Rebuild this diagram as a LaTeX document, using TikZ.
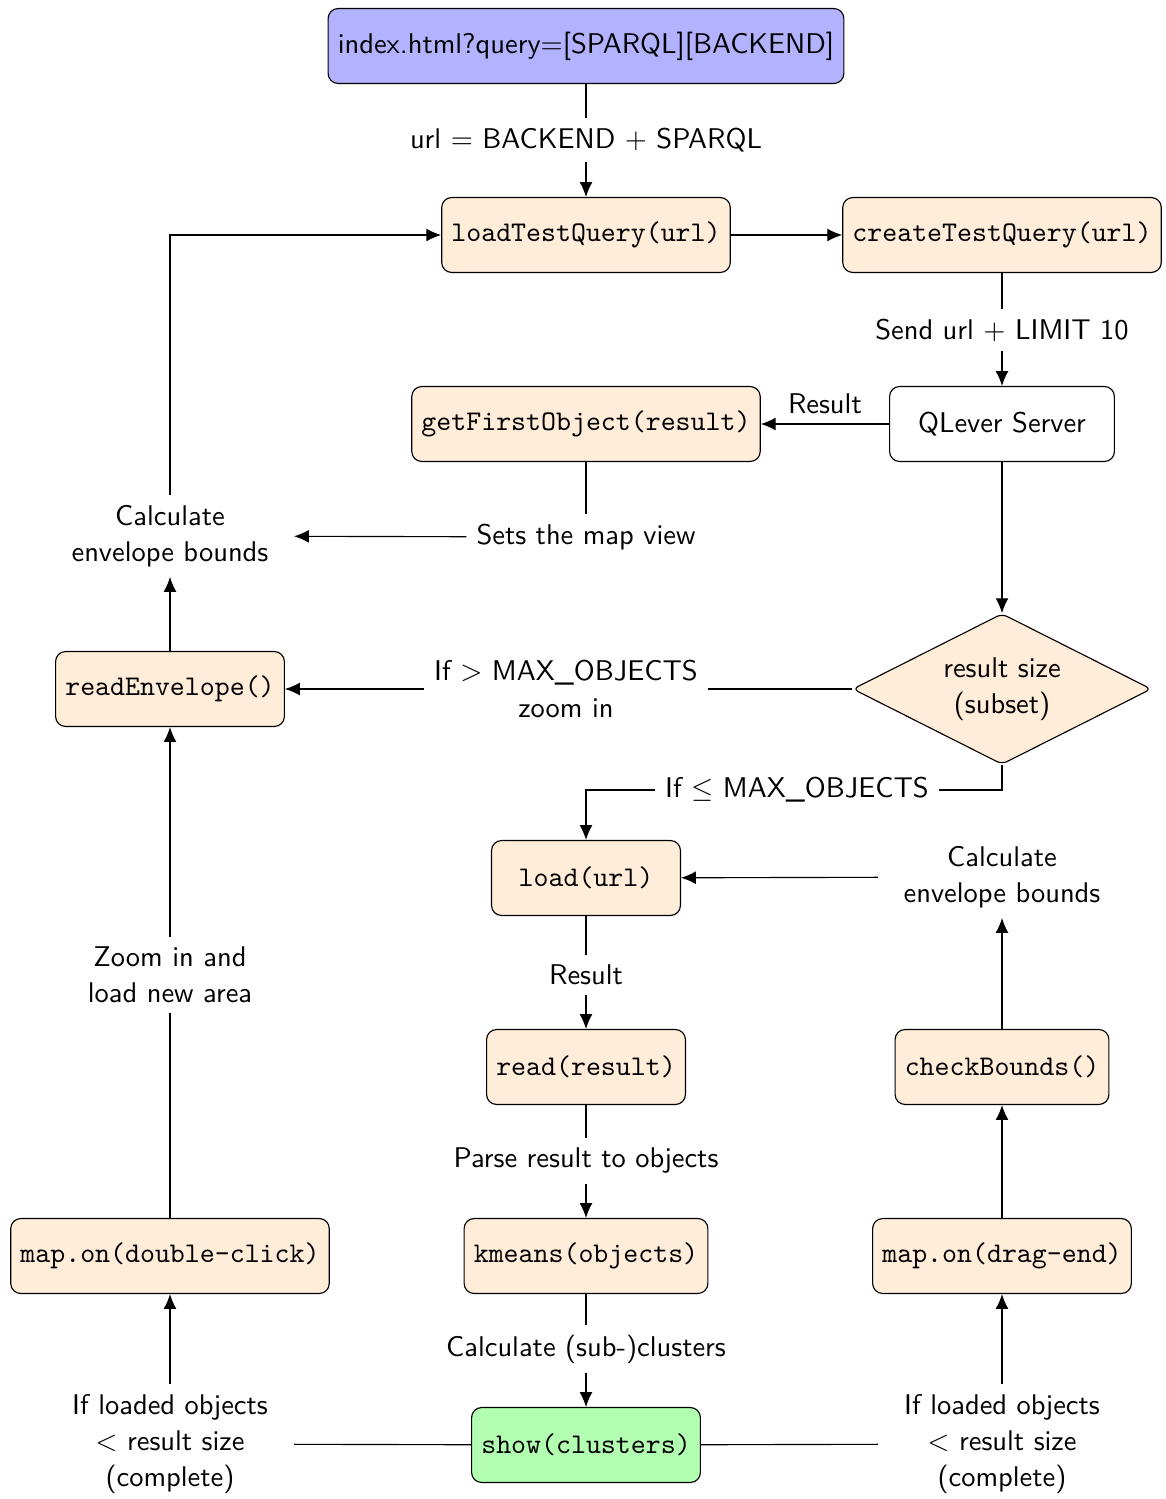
\documentclass[tikz,border=0pt]{standalone}
\usepackage{fontspec}
\usetikzlibrary{arrows.meta,shapes.geometric}
\begin{document}
\begin{tikzpicture}[x=0.351pt,y=-0.351pt,
  font=\fontsize{10}{12.7}\selectfont\sffamily,
  box/.style={draw, rounded corners=3.5pt, minimum height=26.3pt, inner xsep=3.4pt},
  code/.style={box, fill=orange!15, font=\fontsize{10}{12.7}\selectfont\ttfamily},
  start/.style={box, fill=blue!30},
  plainbox/.style={box, fill=white, inner xsep=10pt},
  showbox/.style={code, fill=green!30},
  dia/.style={draw, diamond, aspect=2, fill=orange!15, rounded corners=2pt, align=center,
    minimum width=104.8pt, minimum height=52.9pt, inner sep=1pt},
  lbl/.style={align=center},
  widelbl/.style={align=center, text width=80pt},
  arr/.style={-{Latex[length=5.2pt,width=4.5pt]}}]
\useasboundingbox (0,0) rectangle (1166,1499);

\node[start] (idx) at (586,46) {index.html?query=[SPARQL][BACKEND]};
\node[lbl] (l1) at (586,140) {url $=$ BACKEND $+$ SPARQL};
\node[code] (ltq) at (586,235) {loadTestQuery(url)};
\node[code] (ctq) at (1002,235) {createTestQuery(url)};
\node[lbl] (l2) at (1002,330) {Send url $+$ LIMIT 10};
\node[plainbox] (ql) at (1002,424) {QLever Server};
\node[code] (gfo) at (586,424) {getFirstObject(result)};
\node[lbl] (l3) at (586,537) {Sets the map view};
\node[widelbl] (ceL) at (170,536) {Calculate\\envelope bounds};
\node[code] (re) at (170,689) {readEnvelope()};
\node[dia] (rs) at (1002,689) {result size\\(subset)};
\node[lbl] (l4) at (566,689) {If $>$ MAX\_OBJECTS\\zoom in};
\node[lbl] (l5) at (797,790) {If $\leq$ MAX\_OBJECTS};
\node[code, minimum width=66.3pt] (ld) at (586,878) {load(url)};
\node[widelbl] (ceR) at (1002,877) {Calculate\\envelope bounds};
\node[lbl] (l6) at (586,975) {Result};
\node[code] (rd) at (586,1067) {read(result)};
\node[code] (cb) at (1002,1067) {checkBounds()};
\node[widelbl] (zi) at (170,975) {Zoom in and\\load new area};
\node[lbl] (l7) at (586,1161) {Parse result to objects};
\node[code] (km) at (586,1256) {kmeans(objects)};
\node[code] (dc) at (170,1256) {map.on(double-click)};
\node[code] (de) at (1002,1256) {map.on(drag-end)};
\node[lbl] (l8) at (586,1349) {Calculate (sub-)clusters};
\node[showbox] (sh) at (586,1445) {show(clusters)};
\node[widelbl] (lcL) at (170,1444) {If loaded objects\\$<$ result size\\(complete)};
\node[widelbl] (lcR) at (1002,1444) {If loaded objects\\$<$ result size\\(complete)};

\draw (idx) -- (l1);
\draw[arr] (l1) -- (ltq);
\draw[arr] (ltq) -- (ctq);
\draw (ctq) -- (l2);
\draw[arr] (l2) -- (ql);
\draw[arr] (ql) -- node[above] (r1) {Result} (gfo);
\draw (gfo) -- (l3);
\draw[arr] (l3) -- (ceL);
\draw[arr] (ceL) |- (ltq);
\draw[arr] (re) -- (ceL);
\draw[arr] (ql) -- (rs);
\draw (rs) -- (l4);
\draw[arr] (l4) -- (re);
\draw (rs.south) |- (l5);
\draw[arr] (l5) -| (ld);
\draw[arr] (ceR) -- (ld);
\draw (ld) -- (l6);
\draw[arr] (l6) -- (rd);
\draw (rd) -- (l7);
\draw[arr] (l7) -- (km);
\draw (km) -- (l8);
\draw[arr] (l8) -- (sh);
\draw (sh) -- (lcL);
\draw (sh) -- (lcR);
\draw[arr] (lcL) -- (dc);
\draw[arr] (lcR) -- (de);
\draw (dc) -- (zi);
\draw[arr] (zi) -- (re);
\draw[arr] (de) -- (cb);
\draw[arr] (cb) -- (ceR);
\end{tikzpicture}
\end{document}
